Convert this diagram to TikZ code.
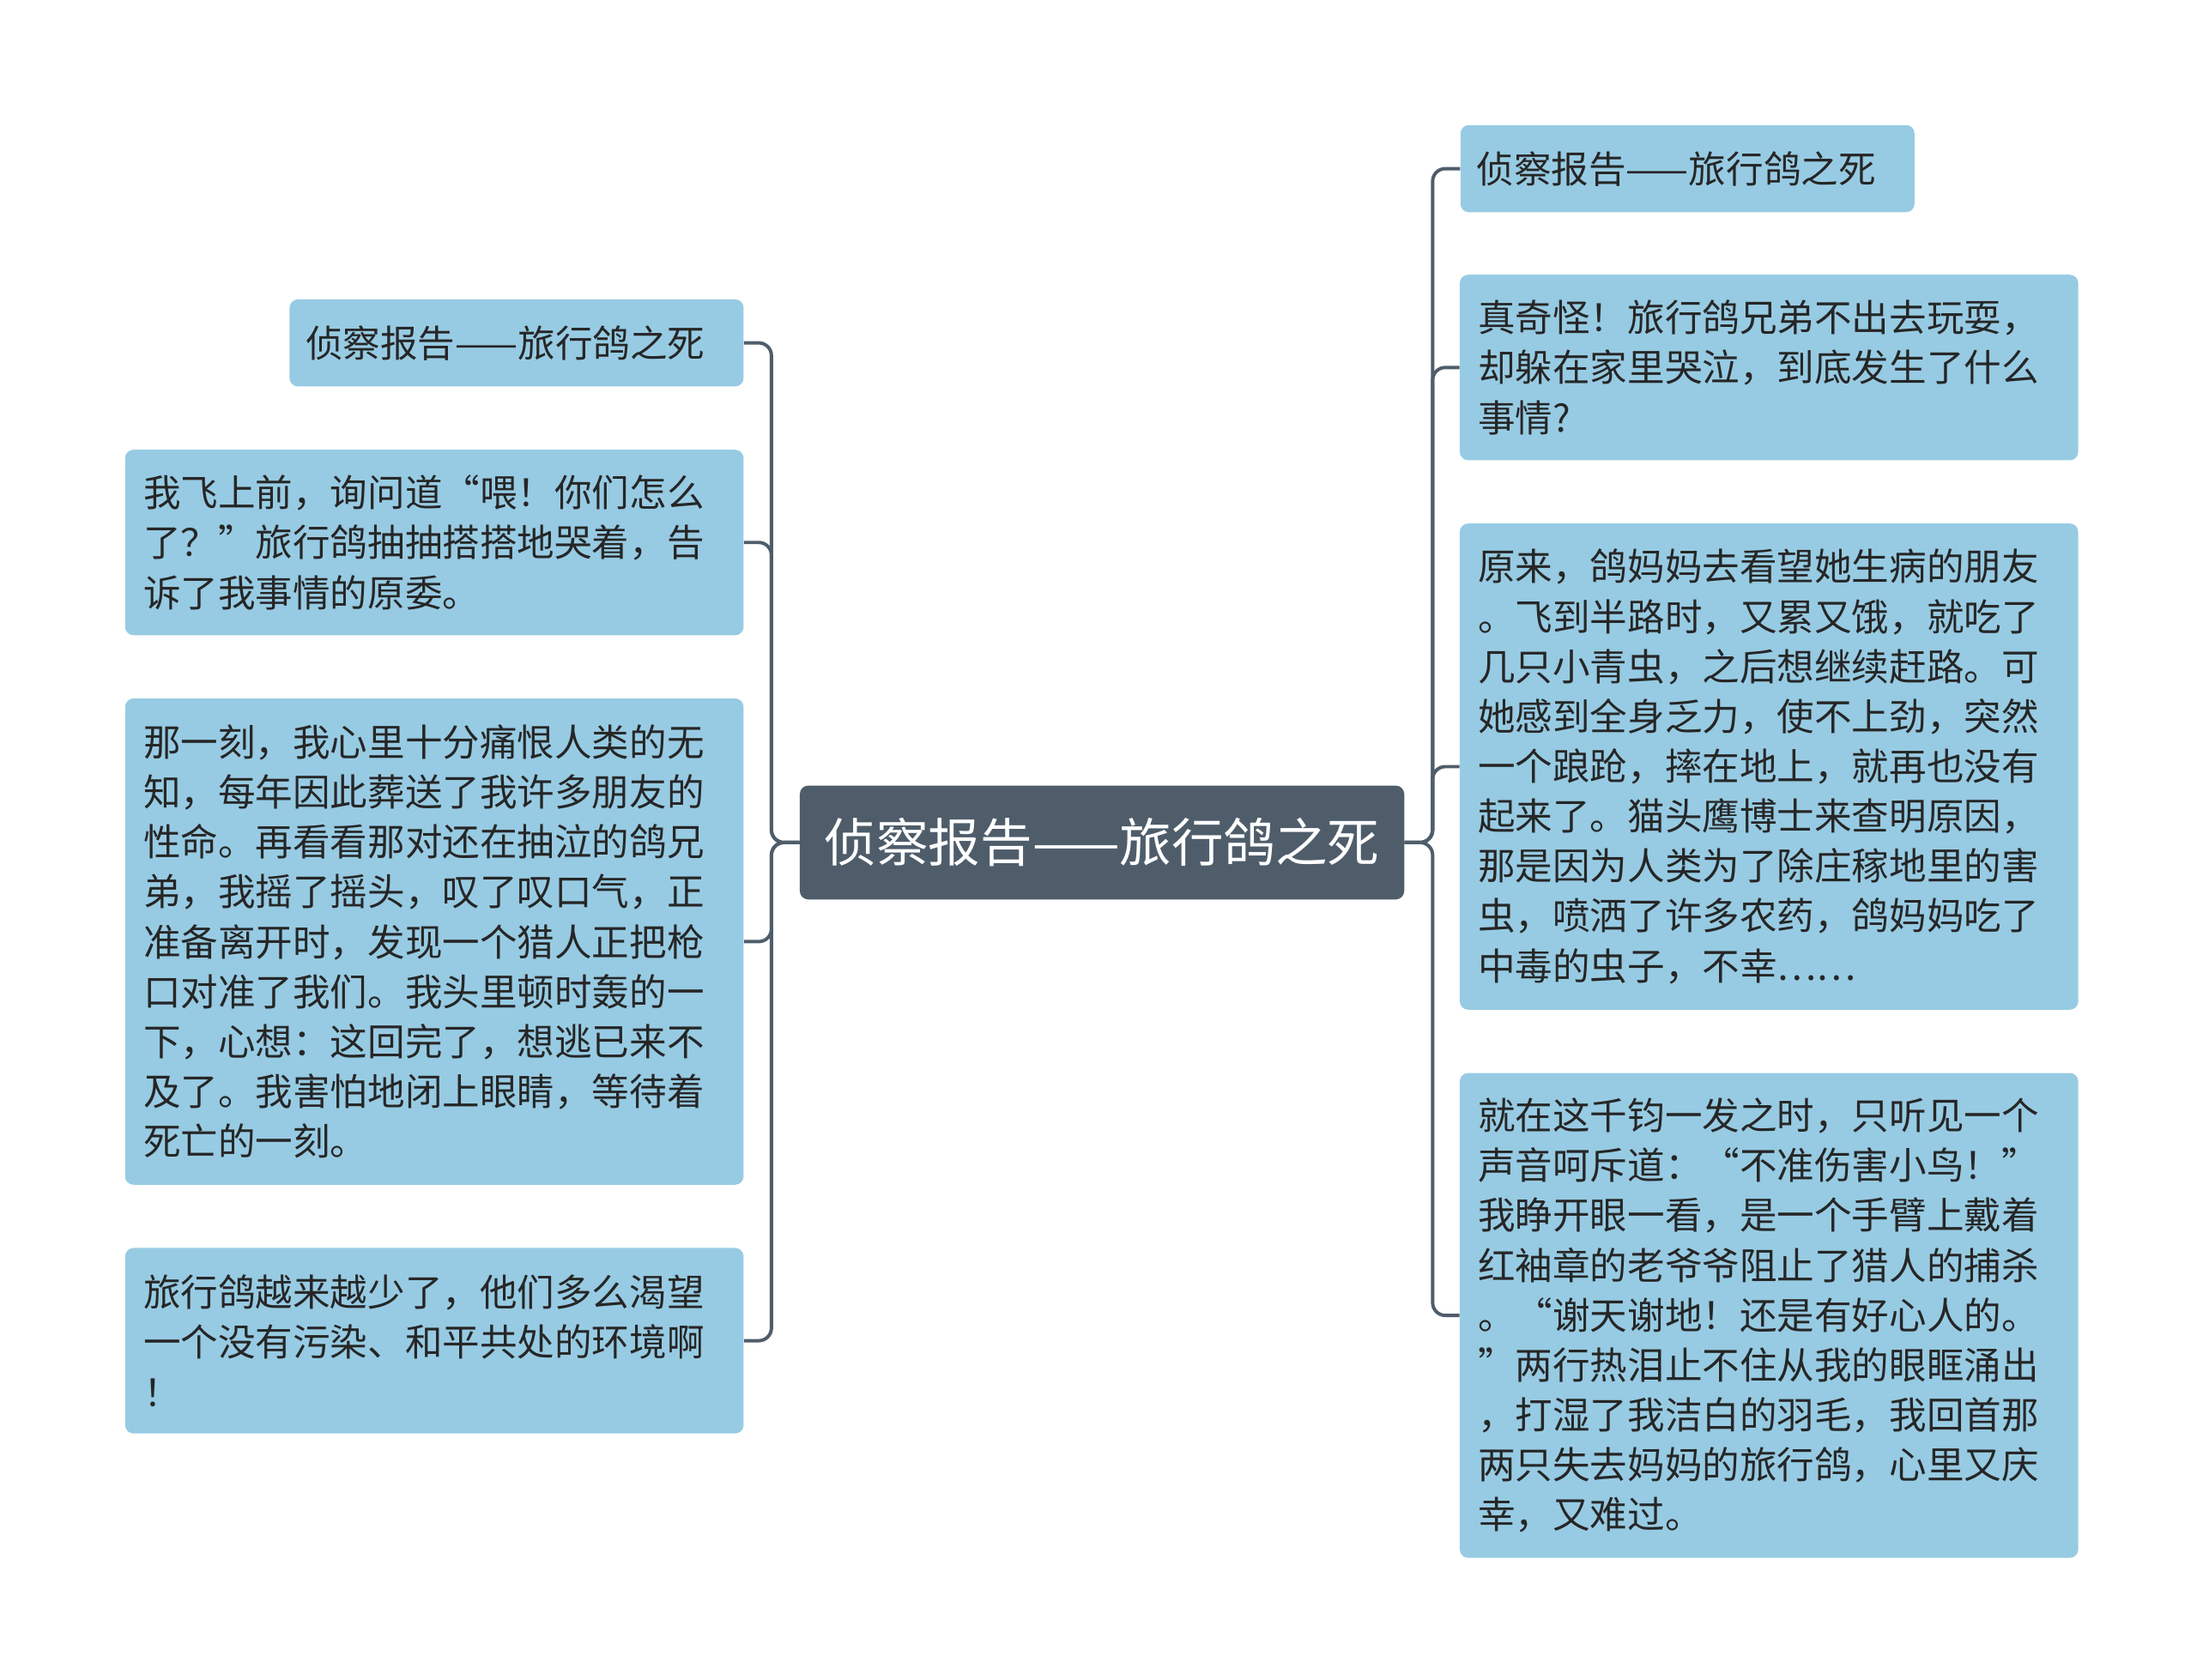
\documentclass[tikz,border=0pt]{standalone}
\usepackage{fontspec}
\setmainfont{Noto Sans CJK SC}
\definecolor{leaf}{HTML}{97CBE3}
\definecolor{root}{HTML}{4F5D6B}
\begin{document}
\begin{tikzpicture}[x=1pt,y=1pt,
  leafbox/.style={fill=leaf,rounded corners=6,inner sep=0pt,align=left,font=\fontsize{26.6}{35.5}\selectfont,text=black!85},
  rootbox/.style={fill=root,rounded corners=6,inner sep=0pt,align=center,font=\fontsize{37}{40}\selectfont,text=white},
  link/.style={draw=root,line width=2.4,rounded corners=9}]
\useasboundingbox (0,0) rectangle (1563,-1195);
\node[rootbox,minimum width=430,minimum height=81] (c) at (784,-599.5) {侦察报告——旅行鸽之死};
% left
\node[leafbox,minimum width=323,minimum height=62,text width=300] (l1) at (367.5,-244) {侦察报告——旅行鸽之死};
\node[leafbox,minimum width=440,minimum height=132,text width=414] (l2) at (309,-386) {我飞上前，询问道“喂！你们怎么\\了？”旅行鸽抽抽搭搭地哭着，告\\诉了我事情的原委。};
\node[leafbox,minimum width=440,minimum height=346,text width=414] (l3) at (309,-670) {那一刻，我心里十分痛恨人类的无\\知，每年因此葬送了我许多朋友的\\性命。再看看那对还在抽泣的鸽兄\\弟，我摇了摇头，叹了叹口气，正\\准备离开时，发现一个猎人正把枪\\口对准了我们。我头里顿时轰的一\\下，心想：这回完了，想逃已来不\\及了。我害怕地闭上眼睛，等待着\\死亡的一刻。};
\node[leafbox,minimum width=440,minimum height=132,text width=414] (l4) at (309,-954) {旅行鸽越来越少了，他们多么渴望\\一个没有污染、和平共处的环境啊\\！};
% right
\node[leafbox,minimum width=323,minimum height=62,text width=300] (r1) at (1200.5,-120) {侦察报告——旅行鸽之死};
\node[leafbox,minimum width=440,minimum height=132,text width=414] (r2) at (1258.5,-261.5) {真奇怪！旅行鸽兄弟不出去玩耍，\\却躲在家里哭泣，到底发生了什么\\事情?};
\node[leafbox,minimum width=440,minimum height=346,text width=414] (r3) at (1258.5,-545.5) {原来，鸽妈妈去看望她生病的朋友\\。飞到半路时，又累又饿，就吃了\\几只小青虫，之后想继续赶路。可\\她感到全身乏力，使不上劲，突然\\一个踉跄，摔在地上，就再也没有\\起来了。猫头鹰博士来查明原因，\\那是因为人类为了除庄稼地里的害\\虫，喷洒了许多农药，鸽妈妈吃了\\中毒的虫子，不幸……};
\node[leafbox,minimum width=440,minimum height=345,text width=414] (r4) at (1258.5,-936) {就在这千钧一发之时，只听见一个\\声音呵斥道：“不准伤害小鸟！”\\我睁开眼一看，是一个手臂上戴着\\红袖章的老爷爷阻止了猎人的捕杀\\。“谢天谢地！还是有好心人的。\\”两行热泪止不住从我的眼眶涌出\\，打湿了我洁白的羽毛，我回首那\\两只失去妈妈的旅行鸽，心里又庆\\幸，又难过。};
\foreach \n in {l1,l2,l3,l4} \draw[link] (c.west) -- ++(-20,0) |- (\n.east);
\foreach \n in {r1,r2,r3,r4} \draw[link] (c.east) -- ++(20,0) |- (\n.west);
\end{tikzpicture}
\end{document}
